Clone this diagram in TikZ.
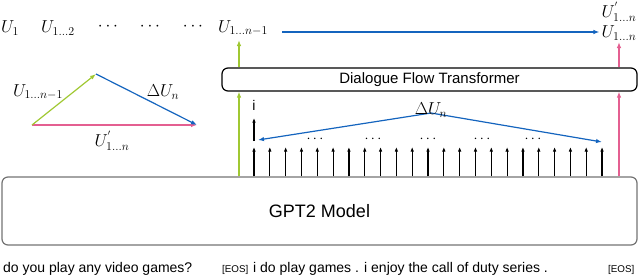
\documentclass[tikz,border=0pt]{standalone}
\usepackage{fontspec}
\setmainfont{Liberation Sans}
\usetikzlibrary{arrows.meta,calc}
\definecolor{cgreen}{RGB}{160,200,50}
\definecolor{cblue}{RGB}{20,100,190}
\definecolor{cpink}{RGB}{228,95,145}
\begin{document}
\begin{tikzpicture}[x=1pt,y=-1pt,
  lab/.style={inner sep=0pt, font=\fontsize{17}{19}\selectfont},
  tok/.style={inner sep=0pt, anchor=base west, font=\fontsize{14}{16}\selectfont},
  eos/.style={inner sep=0pt, anchor=base west, font=\fontsize{9.8}{12}\selectfont},
  blk/.style={draw=black, line width=1.2pt, -{Latex[length=4.5pt,width=3.5pt]}},
  col/.style={line width=1.2pt, -{Latex[length=6pt,width=4.5pt]}},
  box/.style={rounded corners=6pt, line width=1.2pt, inner sep=0pt}]
\useasboundingbox (0,0) rectangle (640,276);

% boxes
\node[box, draw=black!55, minimum width=635pt, minimum height=68pt,
      font=\fontsize{18}{20}\selectfont] (gpt) at (319.5,211) {GPT2 Model};
\node[box, draw=black, minimum width=415pt, minimum height=23pt,
      font=\fontsize{15}{17}\selectfont] (dft) at (429.5,79.5) {Dialogue Flow Transformer};

% bottom tokens
\node[tok] (s1) at (3,272) {do you play any video games?};
\node[eos] (e1) at (222,272) {[EOS]};
\node[tok] (s2) at (253,272) {i do play games . i enjoy the call of duty series .};
\node[eos] (e2) at (608,272) {[EOS]};

% top row
\node[lab] (u1) at (10,28) {$U_1$};
\node[lab] (u12) at (58,28) {$U_{1\ldots 2}$};
\node[lab] (d1) at (108,27) {$\cdots$};
\node[lab] (d2) at (150,27) {$\cdots$};
\node[lab] (d3) at (193,27) {$\cdots$};
\node[lab] (un1) at (243,28) {$U_{1\ldots n-1}$};
\node[lab] (un) at (619,33) {$U_{1\ldots n}$};
\node[lab] (unp) at (619,12) {$U^{'}_{1\ldots n}$};
\coordinate (bstart) at (282,32);
\draw[col, cblue] (bstart) -- ([xshift=-2pt]un.west |- bstart);

% vertical colored arrows
\coordinate (gx) at (239,0);
\coordinate (px) at (619,0);
\draw[col, cgreen] (gpt.north -| gx) -- (dft.south -| gx);
\draw[col, cgreen] (dft.north -| gx) -- (gx |- 0,40);
\draw[col, cpink] (gpt.north -| px) -- (dft.south -| px);
\draw[col, cpink] (dft.north -| px) -- (px |- 0,42);

% token arrows
\foreach \k in {0,...,22} {
  \coordinate (t\k) at ({254+15.82*\k},147);
  \draw[blk] (gpt.north -| t\k) -- (t\k);
}

% i arrow
\node[lab, font=\fontsize{14}{16}\selectfont] (ilab) at (254,105) {i};
\coordinate (ibot) at (254,141);
\coordinate (itop) at (254,118);
\draw[blk] (ibot) -- (itop);

% dots
\foreach \x [count=\i] in {315,373,428,482,533} {
  \node[lab, font=\fontsize{14}{16}\selectfont] (m\i) at (\x,139) {$\cdots$};
}

% Delta U_n fan
\coordinate (apex) at (431,113);
\coordinate (lend) at (258,140);
\coordinate (rend) at (602,142);
\draw[col, cblue] (apex) -- (lend);
\draw[col, cblue] (apex) -- (rend);
\node[lab] (dun) at (431,110) {$\Delta U_n$};

% triangle
\coordinate (A) at (32,125);
\coordinate (B) at (96,74);
\coordinate (C) at (197,125);
\draw[col, cpink] (A) -- (C);
\draw[col, cgreen] (A) -- (B);
\draw[col, cblue] (B) -- (C);
\node[lab] (ta) at (38,92) {$U_{1\ldots n-1}$};
\node[lab] (tb) at (163,92) {$\Delta U_n$};
\node[lab] (tc) at (112,141) {$U^{'}_{1\ldots n}$};
\end{tikzpicture}
\end{document}
